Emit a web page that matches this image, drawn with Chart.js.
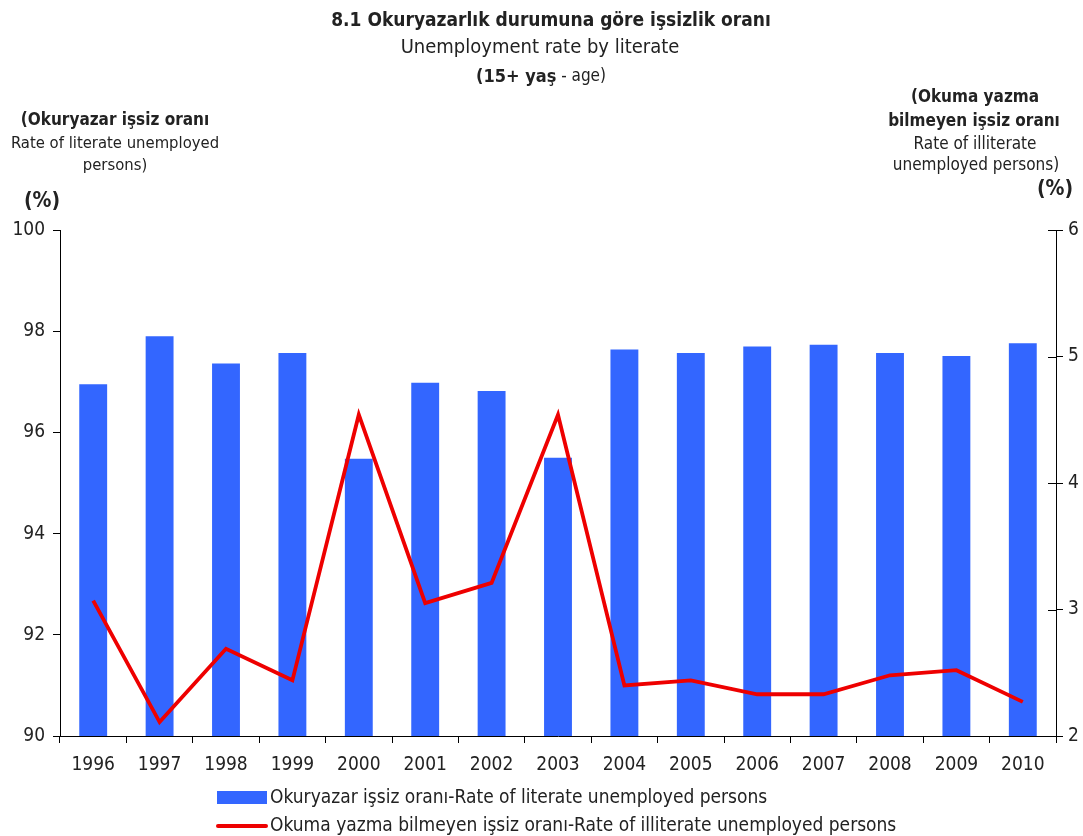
<!DOCTYPE html>
<html>
<head>
<meta charset="utf-8">
<script src="https://cdn.jsdelivr.net/npm/chart.js@4.4.1/dist/chart.umd.min.js"></script>
<style>
  html, body { margin: 0; padding: 0; background: #fff; }
  #wrap { width: 1083px; height: 836px; position: relative; }
</style>
</head>
<body>
<div id="wrap"><canvas id="myChart" width="1083" height="836"></canvas></div>
<script>
// data
var years = ['1996', '1997', '1998', '1999', '2000', '2001', '2002', '2003', '2004', '2005', '2006', '2007', '2008', '2009', '2010'];
var literateRate = [96.95, 97.9, 97.36, 97.57, 95.48, 96.98, 96.82, 95.5, 97.64, 97.57, 97.7, 97.73, 97.57, 97.51, 97.76];
var illiterateRate = [3.07, 2.11, 2.69, 2.44, 4.54, 3.05, 3.21, 4.54, 2.40, 2.44, 2.33, 2.33, 2.48, 2.52, 2.27];
var leftTicks = [90, 92, 94, 96, 98, 100];
var rightTicks = [2, 3, 4, 5, 6];

var FONT = '"DejaVu Sans Condensed", "DejaVu Sans", sans-serif';
var TXT = '#222222';

function txt(ctx, s, x, y, size, bold, align) {
    ctx.font = (bold ? 'bold ' : '') + size + 'px ' + FONT;
    ctx.textAlign = align || 'center';
    ctx.textBaseline = 'middle';
    ctx.fillStyle = TXT;
    ctx.fillText(s, x, y);
}

// titles, axis captions and legend
var decorations = {
    id: 'decorations',
    afterDraw: function(chart) {
        var ctx = chart.ctx;
        ctx.save();
        txt(ctx, '8.1 Okuryazarlık durumuna göre işsizlik oranı', 551, 21, 19, true);
        txt(ctx, 'Unemployment rate by literate', 540, 48, 20, false);

        // "(15+ yaş - age)" mixed weight
        ctx.font = 'bold 18px ' + FONT;
        var a = '(15+ yaş';
        var wa = ctx.measureText(a).width;
        ctx.font = '17px ' + FONT;
        var b = ' - age)';
        var wb = ctx.measureText(b).width;
        var x0 = 541 - (wa + wb) / 2;
        txt(ctx, a, x0, 77, 18, true, 'left');
        txt(ctx, b, x0 + wa, 77, 17, false, 'left');

        txt(ctx, '(Okuryazar işsiz oranı', 115, 121, 17, true);
        txt(ctx, 'Rate of literate unemployed', 115, 144, 16.5, false);
        txt(ctx, 'persons)', 115, 166, 16.5, false);
        txt(ctx, '(%)', 42, 202, 21, true);

        txt(ctx, '(Okuma yazma', 975, 98, 17, true);
        txt(ctx, 'bilmeyen işsiz oranı', 974, 122, 17, true);
        txt(ctx, 'Rate of illiterate', 975, 145, 17, false);
        txt(ctx, 'unemployed persons)', 976, 166, 17, false);
        txt(ctx, '(%)', 1055, 190, 21, true);

        // right axis ticks cross the axis line
        var r = chart.scales.y2;
        ctx.strokeStyle = '#000';
        ctx.lineWidth = 1;
        r.ticks.forEach(function(t) {
            var py = Math.round(r.getPixelForValue(t.value)) + 0.5;
            ctx.beginPath();
            ctx.moveTo(r.left - 8, py);
            ctx.lineTo(r.left, py);
            ctx.stroke();
        });

        // legend
        var bars = chart.data.datasets[0];
        var line = chart.data.datasets[1];
        ctx.fillStyle = bars.backgroundColor;
        ctx.fillRect(217, 791, 50, 13);
        txt(ctx, bars.label, 270, 798, 19, false, 'left');
        ctx.strokeStyle = line.borderColor;
        ctx.lineWidth = 4;
        ctx.lineCap = 'round';
        ctx.beginPath();
        ctx.moveTo(218, 826);
        ctx.lineTo(266, 826);
        ctx.stroke();
        txt(ctx, line.label, 270, 826, 19, false, 'left');
        ctx.restore();
    }
};

var ctx = document.getElementById('myChart').getContext('2d');
var chart = new Chart(ctx, {
    type: 'bar',
    data: {
        labels: years,
        datasets: [{
            type: 'bar',
            label: 'Okuryazar işsiz oranı-Rate of literate unemployed persons',
            data: literateRate,
            yAxisID: 'y',
            backgroundColor: '#3366ff',
            barPercentage: 0.42,
            categoryPercentage: 1.0,
            order: 1
        }, {
            type: 'line',
            label: 'Okuma yazma bilmeyen işsiz oranı-Rate of illiterate unemployed persons',
            data: illiterateRate,
            yAxisID: 'y2',
            borderColor: '#ee0000',
            borderWidth: 3.8,
            pointRadius: 0,
            tension: 0,
            fill: false,
            order: 0
        }]
    },
    options: {
        responsive: false,
        animation: false,
        layout: { padding: { top: 230, left: 0, right: 0, bottom: 0 } },
        plugins: {
            legend: { display: false },
            tooltip: { enabled: false }
        },
        scales: {
            x: {
                offset: true,
                grid: { offset: true, drawOnChartArea: false, drawTicks: true, tickLength: 7, color: '#000' },
                border: { display: true, color: '#000', width: 1 },
                ticks: { color: TXT, font: { family: FONT, size: 19 }, padding: 11, maxRotation: 0 },
                afterFit: function(s) { s.height = 100; }
            },
            y: {
                position: 'left',
                min: leftTicks[0],
                max: leftTicks[leftTicks.length - 1],
                afterBuildTicks: function(s) { s.ticks = leftTicks.map(function(v) { return { value: v }; }); },
                grid: { drawOnChartArea: false, drawTicks: true, tickLength: 7, color: '#000' },
                border: { display: true, color: '#000', width: 1 },
                ticks: { color: TXT, font: { family: FONT, size: 19 }, padding: 8 },
                afterFit: function(s) { s.width = 60; }
            },
            y2: {
                position: 'right',
                min: rightTicks[0],
                max: rightTicks[rightTicks.length - 1],
                afterBuildTicks: function(s) { s.ticks = rightTicks.map(function(v) { return { value: v }; }); },
                grid: { drawOnChartArea: false, drawTicks: true, tickLength: 7, color: '#000' },
                border: { display: true, color: '#000', width: 1 },
                ticks: { color: TXT, font: { family: FONT, size: 19 }, padding: 5 },
                afterFit: function(s) { s.width = 27; }
            }
        }
    },
    plugins: [decorations]
});
</script>
</body>
</html>
